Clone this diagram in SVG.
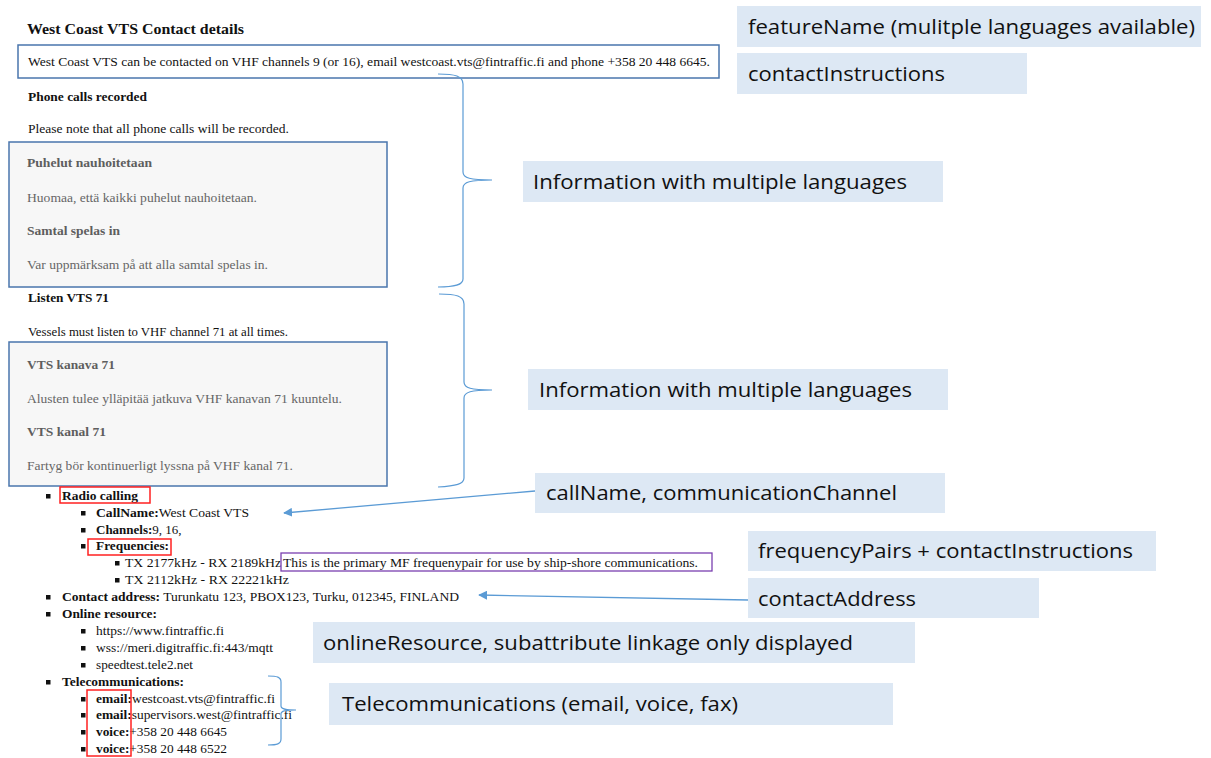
<svg xmlns="http://www.w3.org/2000/svg" width="1211" height="758" viewBox="0 0 1211 758">
<defs>
<style>
.doc{font-family:"Liberation Serif","Times New Roman",serif;font-size:13px;fill:#111}
.b{font-weight:bold}
.h{font-family:"Liberation Serif","Times New Roman",serif;font-size:13.5px;font-weight:bold;fill:#111}
.g{font-family:"Liberation Serif","Times New Roman",serif;font-size:13px;fill:#666}
.gb{font-family:"Liberation Serif","Times New Roman",serif;font-size:13.5px;font-weight:bold;fill:#5e5e5e}
.lbl{fill:#dde8f4}
.lt{font-family:"Open Sans","Noto Sans","Liberation Sans",sans-serif;font-size:20px;fill:#111}
.blue{fill:none;stroke:#4a76ad;stroke-width:1.5}
.grey{fill:#f7f7f7;stroke:#4a76ad;stroke-width:1.5}
.red{fill:none;stroke:#ff2020;stroke-width:1.5}
.brace{fill:none;stroke:#5b9bd5;stroke-width:1.2}
.arr{fill:none;stroke:#5b9bd5;stroke-width:1.3}
.bu{fill:#111}
</style>
<marker id="ah" viewBox="0 0 10 10" refX="9" refY="5" markerWidth="9" markerHeight="9" markerUnits="userSpaceOnUse" orient="auto">
<path d="M0,0 L10,5 L0,10 z" fill="#5b9bd5"/>
</marker>
</defs>
<rect width="1211" height="758" fill="#ffffff"/>

<g id="doc-header">
<text class="h" x="27" y="34" textLength="217" lengthAdjust="spacingAndGlyphs" style="font-size:15px">West Coast VTS Contact details</text>
</g>

<g id="contact-instructions-box">
<rect class="blue" x="18" y="45" width="701" height="33" fill="#fff"/>
<text class="doc" x="28" y="66" textLength="682" lengthAdjust="spacingAndGlyphs">West Coast VTS can be contacted on VHF channels 9 (or 16), email westcoast.vts@fintraffic.fi and phone +358 20 448 6645.</text>
</g>

<g id="info-phone">
<text class="h" x="28" y="101" textLength="119" lengthAdjust="spacingAndGlyphs">Phone calls recorded</text>
<text class="doc" x="28" y="133" textLength="261" lengthAdjust="spacingAndGlyphs">Please note that all phone calls will be recorded.</text>
</g>

<g id="info-phone-languages">
<rect class="grey" x="9" y="142" width="378" height="145"/>
<text class="gb" x="27" y="167" textLength="125" lengthAdjust="spacingAndGlyphs">Puhelut nauhoitetaan</text>
<text class="g" x="27" y="202" textLength="230" lengthAdjust="spacingAndGlyphs">Huomaa, että kaikki puhelut nauhoitetaan.</text>
<text class="gb" x="27" y="235" textLength="93" lengthAdjust="spacingAndGlyphs">Samtal spelas in</text>
<text class="g" x="27" y="269" textLength="241" lengthAdjust="spacingAndGlyphs">Var uppmärksam på att alla samtal spelas in.</text>
</g>

<g id="info-listen">
<text class="h" x="28" y="302" textLength="81" lengthAdjust="spacingAndGlyphs">Listen VTS 71</text>
<text class="doc" x="28" y="336" textLength="260" lengthAdjust="spacingAndGlyphs">Vessels must listen to VHF channel 71 at all times.</text>
</g>

<g id="info-listen-languages">
<rect class="grey" x="9" y="342" width="378" height="144"/>
<text class="gb" x="27" y="369" textLength="88" lengthAdjust="spacingAndGlyphs">VTS kanava 71</text>
<text class="g" x="27" y="403" textLength="315" lengthAdjust="spacingAndGlyphs">Alusten tulee ylläpitää jatkuva VHF kanavan 71 kuuntelu.</text>
<text class="gb" x="27" y="436" textLength="79" lengthAdjust="spacingAndGlyphs">VTS kanal 71</text>
<text class="g" x="27" y="470" textLength="266" lengthAdjust="spacingAndGlyphs">Fartyg bör kontinuerligt lyssna på VHF kanal 71.</text>
</g>

<g id="radio-calling">
<rect class="bu" x="46" y="494" width="4.5" height="4.5"/>
<text class="doc b" x="62" y="500" textLength="76" lengthAdjust="spacingAndGlyphs">Radio calling</text>
<rect class="red" x="60" y="487" width="90" height="16"/>
<rect class="bu" x="81" y="511" width="4.5" height="4.5"/>
<text class="doc" x="96" y="517" textLength="153" lengthAdjust="spacingAndGlyphs"><tspan class="b">CallName:</tspan>West Coast VTS</text>
<rect class="bu" x="81" y="528" width="4.5" height="4.5"/>
<text class="doc" x="96" y="534"><tspan class="b">Channels:</tspan>9, 16,</text>
<rect class="bu" x="81" y="544" width="4.5" height="4.5"/>
<text class="doc b" x="96" y="550" textLength="73" lengthAdjust="spacingAndGlyphs">Frequencies:</text>
<rect class="red" x="88" y="539" width="83" height="16"/>
<rect class="bu" x="115" y="561" width="4.5" height="4.5"/>
<text class="doc" x="125" y="567" textLength="156" lengthAdjust="spacingAndGlyphs">TX 2177kHz - RX 2189kHz</text>
<rect fill="none" stroke="#7a3fb0" stroke-width="1.3" x="281" y="553" width="431" height="18"/>
<text class="doc" x="283" y="567" textLength="415" lengthAdjust="spacingAndGlyphs">This is the primary MF frequenypair for use by ship-shore communications.</text>
<rect class="bu" x="115" y="578" width="4.5" height="4.5"/>
<text class="doc" x="125" y="584" textLength="164" lengthAdjust="spacingAndGlyphs">TX 2112kHz - RX 22221kHz</text>
</g>

<g id="contact-address">
<rect class="bu" x="46" y="595" width="4.5" height="4.5"/>
<text class="doc" x="62" y="601" textLength="397" lengthAdjust="spacingAndGlyphs"><tspan class="b">Contact address:</tspan> Turunkatu 123, PBOX123, Turku, 012345, FINLAND</text>
</g>

<g id="online-resource">
<rect class="bu" x="46" y="612" width="4.5" height="4.5"/>
<text class="doc b" x="62" y="618" textLength="95" lengthAdjust="spacingAndGlyphs">Online resource:</text>
<rect class="bu" x="81" y="629" width="4.5" height="4.5"/>
<text class="doc" x="96" y="635" textLength="128" lengthAdjust="spacingAndGlyphs">https://www.fintraffic.fi</text>
<rect class="bu" x="81" y="646" width="4.5" height="4.5"/>
<text class="doc" x="96" y="652" textLength="177" lengthAdjust="spacingAndGlyphs">wss://meri.digitraffic.fi:443/mqtt</text>
<rect class="bu" x="81" y="663" width="4.5" height="4.5"/>
<text class="doc" x="96" y="669" textLength="97" lengthAdjust="spacingAndGlyphs">speedtest.tele2.net</text>
</g>

<g id="telecommunications">
<rect class="bu" x="46" y="680" width="4.5" height="4.5"/>
<text class="doc b" x="62" y="686" textLength="122" lengthAdjust="spacingAndGlyphs">Telecommunications:</text>
<rect class="bu" x="81" y="697" width="4.5" height="4.5"/>
<text class="doc" x="96" y="703" textLength="179" lengthAdjust="spacingAndGlyphs"><tspan class="b">email:</tspan>westcoast.vts@fintraffic.fi</text>
<rect class="bu" x="81" y="713" width="4.5" height="4.5"/>
<text class="doc" x="96" y="719" textLength="196" lengthAdjust="spacingAndGlyphs"><tspan class="b">email:</tspan>supervisors.west@fintraffic.fi</text>
<rect class="bu" x="81" y="730" width="4.5" height="4.5"/>
<text class="doc" x="96" y="736" textLength="131" lengthAdjust="spacingAndGlyphs"><tspan class="b">voice:</tspan>+358 20 448 6645</text>
<rect class="bu" x="81" y="747" width="4.5" height="4.5"/>
<text class="doc" x="96" y="753" textLength="131" lengthAdjust="spacingAndGlyphs"><tspan class="b">voice:</tspan>+358 20 448 6522</text>
<rect class="red" x="87" y="690" width="44" height="66"/>
</g>

<g id="label-featureName">
<rect class="lbl" x="737" y="6" width="464" height="41"/>
<text class="lt" x="748" y="34" textLength="447" lengthAdjust="spacingAndGlyphs">featureName (mulitple languages available)</text>
</g>
<g id="label-contactInstructions">
<rect class="lbl" x="737" y="53" width="290" height="41"/>
<text class="lt" x="748" y="81" textLength="197" lengthAdjust="spacingAndGlyphs">contactInstructions</text>
</g>
<g id="label-info1">
<rect class="lbl" x="523" y="161" width="420" height="41"/>
<text class="lt" x="533" y="189" textLength="374" lengthAdjust="spacingAndGlyphs">Information with multiple languages</text>
</g>
<g id="label-info2">
<rect class="lbl" x="528" y="369" width="420" height="41"/>
<text class="lt" x="539" y="397" textLength="373" lengthAdjust="spacingAndGlyphs">Information with multiple languages</text>
</g>
<g id="label-callName">
<rect class="lbl" x="535" y="473" width="410" height="40"/>
<text class="lt" x="546" y="500" textLength="351" lengthAdjust="spacingAndGlyphs">callName, communicationChannel</text>
</g>
<g id="label-frequencyPairs">
<rect class="lbl" x="748" y="531" width="408" height="40"/>
<text class="lt" x="758" y="558" textLength="375" lengthAdjust="spacingAndGlyphs">frequencyPairs + contactInstructions</text>
</g>
<g id="label-contactAddress">
<rect class="lbl" x="748" y="578" width="291" height="40"/>
<text class="lt" x="758" y="606" textLength="158" lengthAdjust="spacingAndGlyphs">contactAddress</text>
</g>
<g id="label-onlineResource">
<rect class="lbl" x="313" y="622" width="602" height="41"/>
<text class="lt" x="323" y="650" textLength="530" lengthAdjust="spacingAndGlyphs">onlineResource, subattribute linkage only displayed</text>
</g>
<g id="label-telecom">
<rect class="lbl" x="329" y="683" width="564" height="42"/>
<text class="lt" x="342" y="711" textLength="396" lengthAdjust="spacingAndGlyphs">Telecommunications (email, voice, fax)</text>
</g>

<g id="connectors">
<path class="brace" d="M438,74 C455,74 463,76 463,84 L463,172 C463,178 470,180 492,180 C470,180 463,182 463,188 L463,279 C463,285 455,287 438,287"/>
<path class="brace" d="M439,294 C456,294 464,296 464,304 L464,382 C464,388 471,390 492,390 C471,390 464,392 464,398 L464,478 C464,484 456,486 438,487"/>
<path class="brace" d="M268,676 C277,676 281,677 281,682 L281,706 C281,709 285,710 296,710 C285,710 281,711 281,714 L281,739 C281,744 277,745 268,745"/>
<line class="arr" x1="535" y1="491" x2="284" y2="513" marker-end="url(#ah)"/>
<line class="arr" x1="748" y1="600" x2="479" y2="595" marker-end="url(#ah)"/>
</g>
</svg>
